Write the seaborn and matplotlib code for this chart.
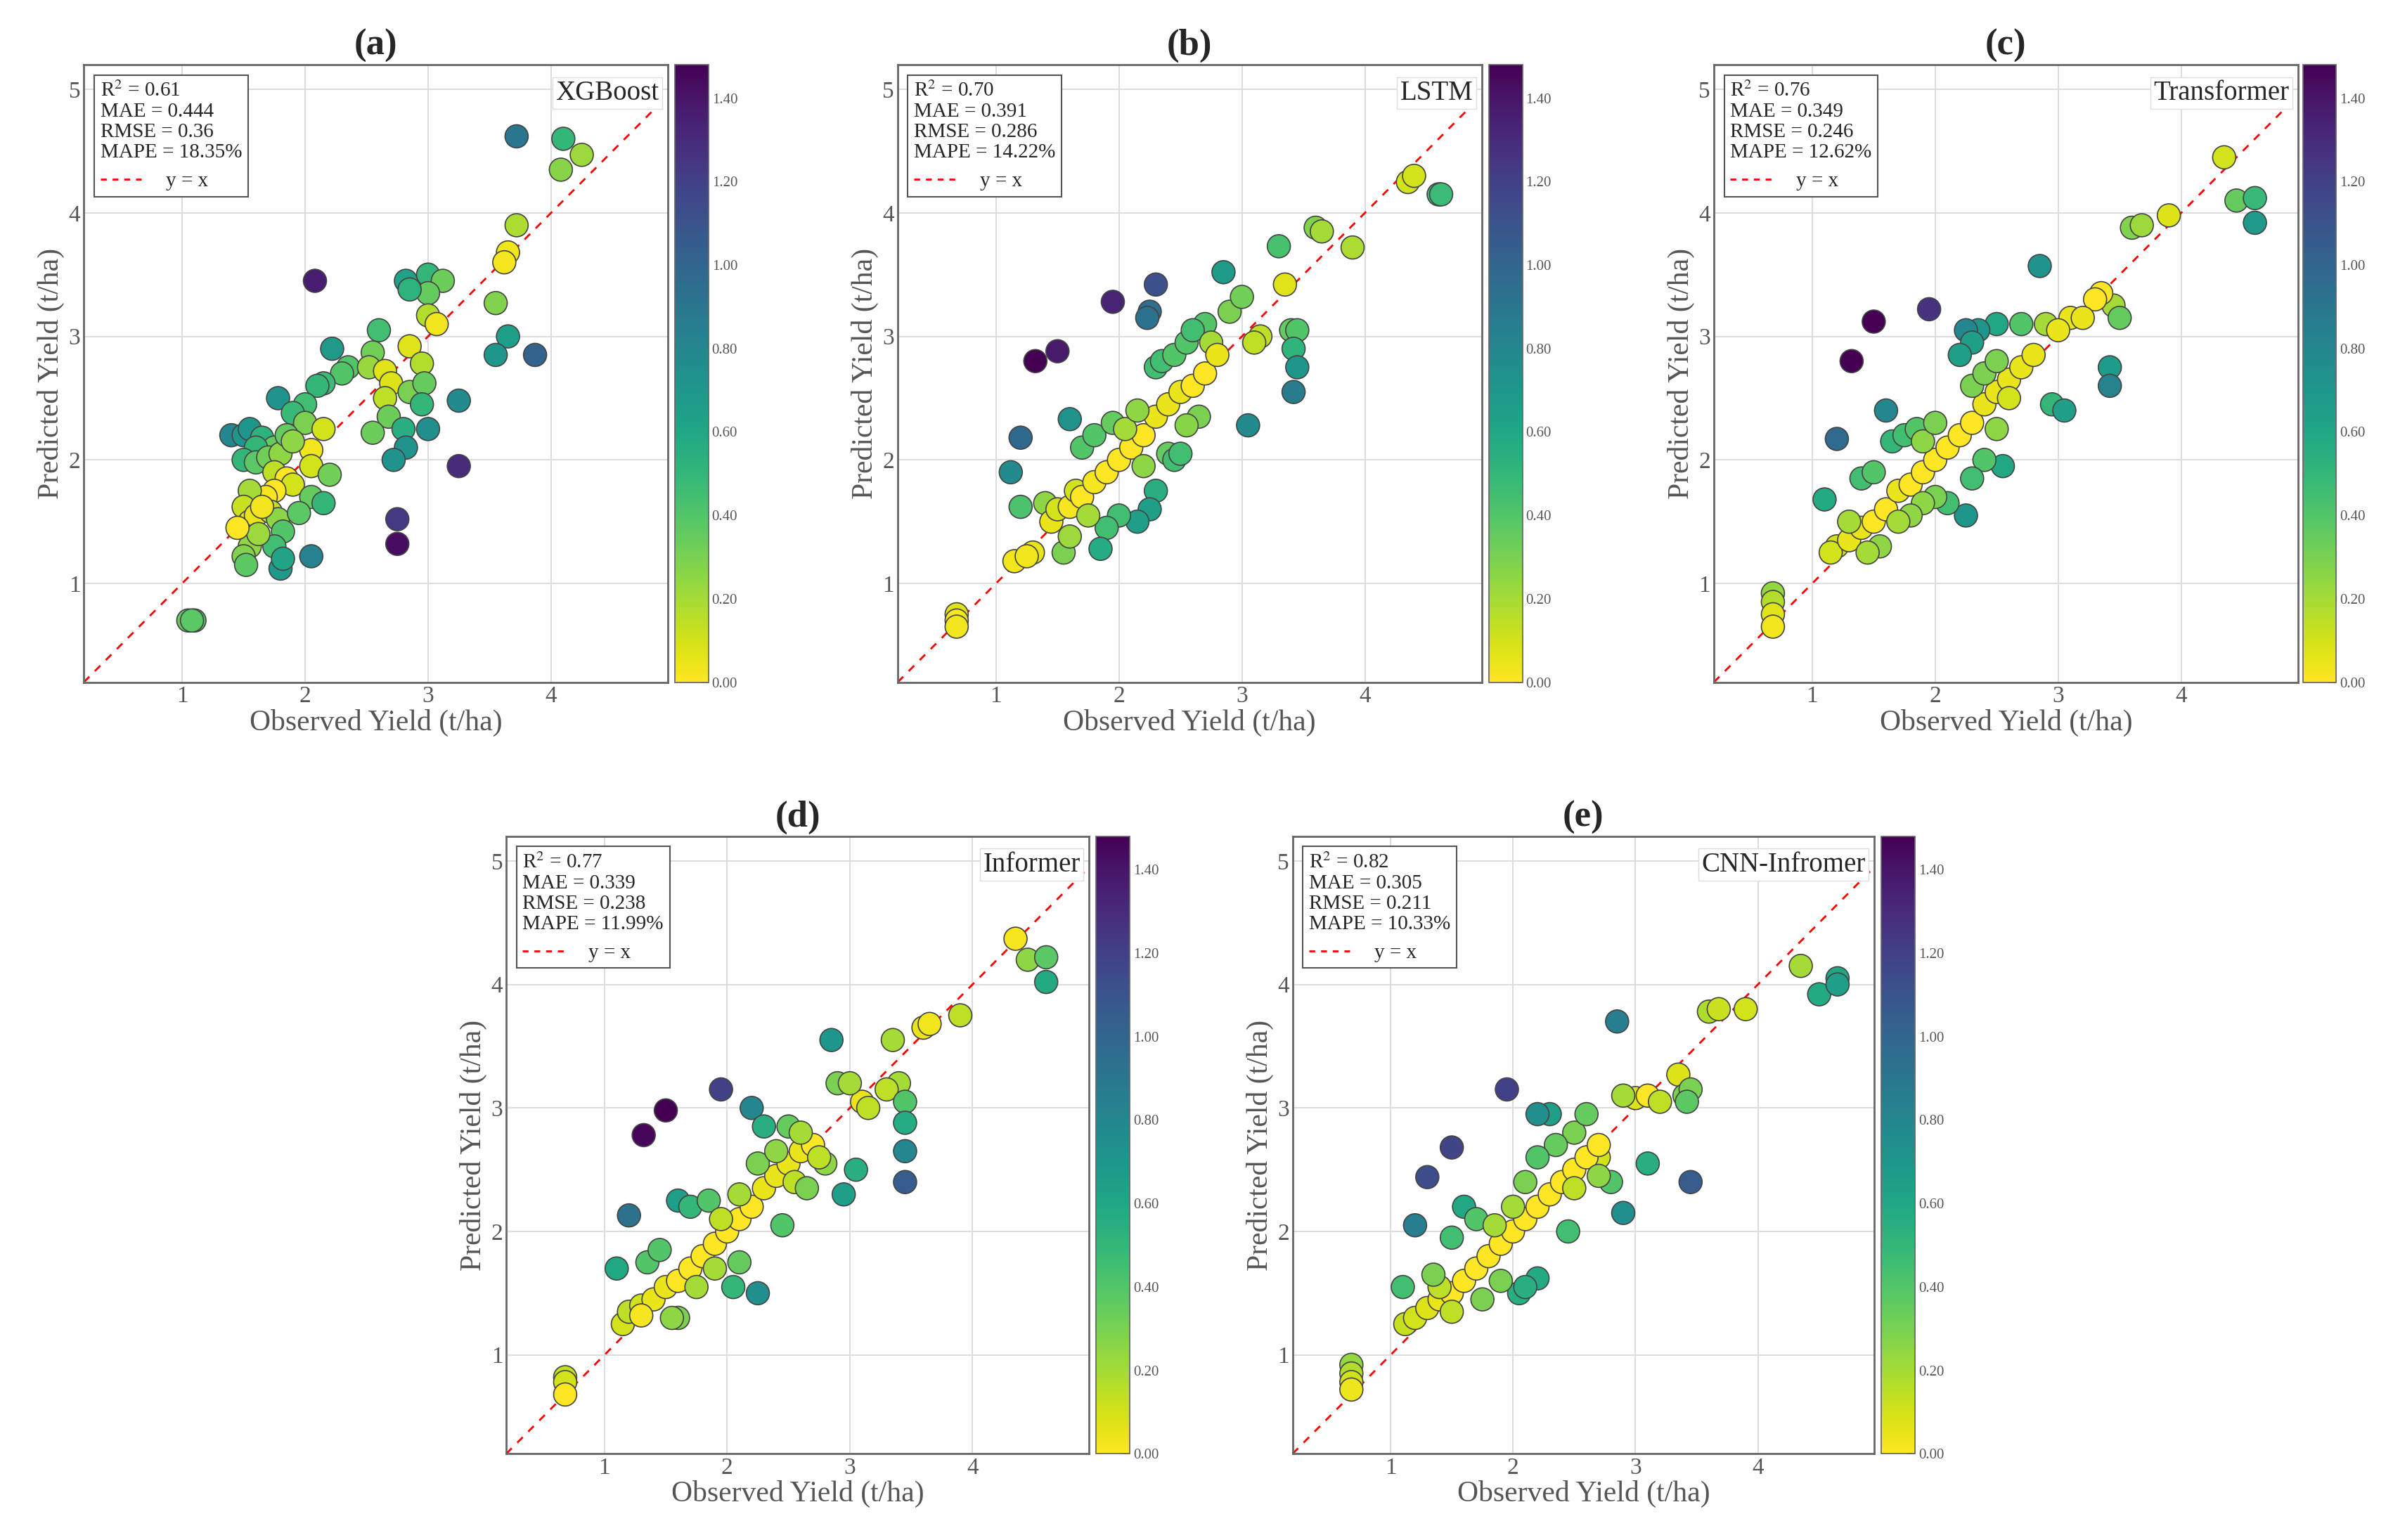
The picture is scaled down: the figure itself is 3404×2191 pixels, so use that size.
import pandas as pd
import numpy as np
import matplotlib.pyplot as plt
import seaborn as sns
from matplotlib.lines import Line2D
from matplotlib.cm import ScalarMappable
from matplotlib.colors import Normalize

# Observed / predicted yield (t/ha)
xgb_pts = [(1.05,0.7),(1.1,0.7),(1.08,0.7),(3.72,4.62),(4.1,4.6),(4.25,4.47),(4.08,4.35),(3.72,3.9),(3.65,3.68),(3.62,3.6),
           (3.55,3.27),(3.65,3.0),(3.55,2.85),(3.87,2.85),(3.25,2.48),(3.25,1.95),(2.75,1.52),(2.75,1.32),(2.08,3.45),
           (2.82,3.45),(3.0,3.5),(3.12,3.45),(3.0,3.35),(2.85,3.38),(3.0,3.17),(3.07,3.1),(2.6,3.05),(2.22,2.9),(2.55,2.87),
           (2.35,2.75),(2.3,2.7),(2.52,2.75),(2.65,2.72),(2.7,2.62),(2.85,2.92),(2.95,2.78),(2.85,2.55),(2.97,2.62),(2.95,2.45),
           (2.65,2.5),(2.68,2.35),(2.55,2.22),(2.8,2.25),(3.0,2.25),(2.82,2.1),(2.72,2.0),(2.15,2.62),(2.1,2.6),(2.0,2.45),
           (1.78,2.5),(1.9,2.38),(2.0,2.3),(2.15,2.25),(2.05,2.08),(2.05,1.95),(2.2,1.88),(1.4,2.2),(1.5,2.2),(1.55,2.25),
           (1.65,2.18),(1.75,2.1),(1.6,2.1),(1.5,2.0),(1.6,1.98),(1.7,2.02),(1.8,2.05),(1.85,2.2),(1.9,2.15),(1.75,1.9),
           (1.85,1.85),(1.9,1.8),(1.75,1.75),(1.68,1.7),(1.55,1.75),(1.5,1.62),(1.55,1.5),(1.6,1.55),(1.72,1.58),(1.78,1.52),
           (1.82,1.42),(1.75,1.3),(1.55,1.3),(1.5,1.22),(1.52,1.15),(1.8,1.12),(1.82,1.2),(1.62,1.4),(2.05,1.7),(2.15,1.65),
           (2.05,1.22),(1.95,1.57),(1.65,1.62),(1.45,1.45)]
lstm_pts = [(0.68,0.75),(0.68,0.7),(0.68,0.65),(4.35,4.25),(4.4,4.3),(4.6,4.15),(4.62,4.15),(3.6,3.88),(3.65,3.85),(3.9,3.72),
            (3.3,3.73),(3.35,3.42),(3.15,3.0),(3.1,2.95),(3.4,3.05),(3.45,3.05),(3.42,2.9),(3.45,2.75),(3.42,2.55),(3.05,2.28),
            (2.85,3.52),(2.7,3.1),(2.9,3.2),(3.0,3.32),(2.3,3.42),(2.25,3.2),(2.23,3.15),(1.95,3.28),(1.5,2.88),(1.32,2.8),
            (1.2,2.18),(1.12,1.9),(1.2,1.62),(1.6,2.33),(1.4,1.65),(1.3,1.25),(1.15,1.18),(1.25,1.22),(1.45,1.5),(1.5,1.6),
            (1.6,1.62),(1.65,1.75),(1.7,1.7),(1.8,1.82),(1.9,1.9),(2.0,2.0),(2.1,2.1),(2.2,2.2),(2.3,2.35),(2.4,2.45),
            (2.5,2.55),(2.6,2.6),(2.7,2.7),(1.7,2.1),(1.8,2.2),(1.95,2.3),(2.05,2.25),(2.15,2.4),(2.3,2.75),(2.35,2.8),
            (2.45,2.85),(2.55,2.95),(2.6,3.05),(2.75,2.95),(2.8,2.85),(2.65,2.35),(2.55,2.28),(2.4,2.05),(2.3,1.75),(2.25,1.6),
            (2.15,1.5),(2.0,1.55),(1.9,1.45),(1.85,1.28),(1.55,1.25),(1.6,1.38),(1.75,1.55),(2.2,1.95),(2.45,2.0),(2.5,2.05)]
trans_pts = [(0.68,0.92),(0.68,0.85),(0.68,0.75),(0.68,0.65),(4.35,4.45),(4.45,4.1),(4.6,4.12),(4.6,3.92),(3.9,3.98),(3.6,3.88),
             (3.68,3.9),(3.45,3.25),(3.5,3.15),(3.42,2.75),(3.42,2.6),(3.35,3.35),(3.3,3.3),(3.1,3.15),(3.2,3.15),(2.85,3.57),
             (2.9,3.1),(2.95,2.45),(3.05,2.4),(2.7,3.1),(2.5,3.1),(2.35,3.05),(2.25,3.05),(2.3,2.95),(1.95,3.22),(1.5,3.12),
             (1.32,2.8),(1.2,2.17),(1.1,1.68),(1.2,1.3),(1.15,1.25),(1.3,1.35),(1.4,1.45),(1.5,1.5),(1.6,1.6),(1.7,1.75),
             (1.8,1.8),(1.9,1.9),(2.0,2.0),(2.1,2.1),(2.2,2.2),(2.3,2.3),(2.4,2.45),(2.5,2.55),(2.6,2.65),(2.7,2.75),
             (2.8,2.85),(3.0,3.05),(1.6,2.4),(1.65,2.15),(1.75,2.2),(1.85,2.25),(1.9,2.15),(2.0,2.3),(2.2,2.85),(2.3,2.6),
             (2.4,2.7),(2.5,2.8),(2.6,2.5),(2.55,1.95),(2.4,2.0),(2.3,1.85),(2.25,1.55),(2.1,1.65),(2.0,1.7),(1.9,1.65),
             (1.8,1.55),(1.7,1.5),(1.55,1.3),(1.45,1.25),(1.3,1.5),(1.4,1.85),(1.5,1.9),(2.5,2.25)]
inf_pts = [(0.68,0.82),(0.68,0.78),(0.68,0.68),(4.35,4.37),(4.45,4.2),(4.6,4.22),(4.6,4.02),(3.9,3.75),(3.6,3.65),(3.65,3.68),
           (3.35,3.55),(3.4,3.2),(3.3,3.15),(3.45,3.05),(3.45,2.88),(3.45,2.65),(3.45,2.4),(3.1,3.05),(3.15,3.0),(2.85,3.55),
           (2.9,3.2),(3.0,3.2),(2.95,2.3),(3.05,2.5),(2.8,2.55),(1.95,3.15),(1.5,2.98),(1.32,2.78),(1.2,2.13),(1.1,1.7),
           (1.15,1.25),(1.2,1.35),(1.3,1.4),(1.4,1.45),(1.5,1.55),(1.6,1.6),(1.7,1.7),(1.8,1.8),(1.9,1.9),(2.0,2.0),
           (2.1,2.1),(2.2,2.2),(2.3,2.35),(2.4,2.45),(2.5,2.55),(2.6,2.65),(2.7,2.7),(2.2,3.0),(2.3,2.85),(2.5,2.85),
           (2.6,2.8),(1.6,2.25),(1.7,2.2),(1.85,2.25),(1.95,2.1),(2.1,2.3),(2.25,2.55),(2.4,2.65),(2.55,2.4),(2.65,2.35),
           (2.45,2.05),(2.25,1.5),(2.05,1.55),(2.1,1.75),(1.9,1.7),(1.75,1.55),(1.6,1.3),(1.55,1.3),(1.35,1.75),(1.45,1.85),
           (2.75,2.6),(1.3,1.32)]
cnn_pts = [(0.68,0.92),(0.68,0.85),(0.68,0.78),(0.68,0.72),(4.35,4.15),(4.5,3.92),(4.65,4.05),(4.65,4.0),(3.9,3.8),(3.6,3.78),
           (3.68,3.8),(3.35,3.27),(3.4,3.1),(3.45,3.15),(3.42,3.05),(3.45,2.4),(3.1,2.55),(3.0,3.08),(3.1,3.1),(2.85,3.7),
           (2.9,3.1),(2.9,2.15),(2.7,2.6),(2.8,2.4),(2.3,2.95),(2.2,2.95),(1.95,3.15),(1.5,2.68),(1.3,2.44),(1.2,2.05),
           (1.1,1.55),(1.12,1.25),(1.2,1.3),(1.3,1.38),(1.4,1.45),(1.5,1.5),(1.6,1.6),(1.7,1.7),(1.8,1.8),(1.9,1.9),
           (2.0,2.0),(2.1,2.1),(2.2,2.2),(2.3,2.3),(2.4,2.4),(2.5,2.5),(2.6,2.6),(2.7,2.7),(2.5,2.8),(2.6,2.95),
           (2.35,2.7),(1.6,2.2),(1.7,2.1),(1.85,2.05),(2.0,2.2),(2.1,2.4),(2.2,2.6),(2.5,2.35),(2.7,2.45),(2.2,1.62),
           (2.05,1.5),(2.1,1.55),(1.9,1.6),(1.75,1.45),(1.5,1.35),(1.4,1.55),(1.5,1.95),(1.35,1.65),(2.45,2.0),(3.2,3.05)]

panel_labels = ['(a)', '(b)', '(c)', '(d)', '(e)']
model_names = ['XGBoost', 'LSTM', 'Transformer', 'Informer', 'CNN-Infromer']
r2_vals = ['0.61', '0.70', '0.76', '0.77', '0.82']
mae_vals = ['0.444', '0.391', '0.349', '0.339', '0.305']
rmse_vals = ['0.36', '0.286', '0.246', '0.238', '0.211']
mape_vals = ['18.35%', '14.22%', '12.62%', '11.99%', '10.33%']
all_pts = [xgb_pts, lstm_pts, trans_pts, inf_pts, cnn_pts]

# Axes positions [left, bottom, width, height] and colorbar positions
ax_pos = [[0.035, 0.557, 0.244, 0.401], [0.375, 0.557, 0.244, 0.401], [0.716, 0.557, 0.244, 0.401],
          [0.2115, 0.056, 0.2435, 0.401], [0.540, 0.056, 0.243, 0.401]]
cb_pos = [[0.282, 0.557, 0.014, 0.401], [0.622, 0.557, 0.014, 0.401], [0.962, 0.557, 0.014, 0.401],
          [0.458, 0.056, 0.014, 0.401], [0.786, 0.056, 0.014, 0.401]]

sns.set_theme(style="whitegrid")
plt.rcParams['font.family'] = ['Liberation Serif', 'DejaVu Serif']
plt.rcParams['mathtext.fontset'] = 'stix'

fig = plt.figure(figsize=(34.05, 21.91), dpi=100)
norm = Normalize(vmin=0, vmax=1.48)

for i in range(5):
    df = pd.DataFrame(all_pts[i], columns=['observed', 'predicted'])
    df['abs_err'] = (df['predicted'] - df['observed']).abs()  # colour = absolute error

    ax = fig.add_axes(ax_pos[i])
    ax.plot([0.2, 5.2], [0.2, 5.2], color='red', linestyle=(0, (4, 4)), linewidth=2, zorder=1)
    sns.scatterplot(data=df, x='observed', y='predicted', hue='abs_err', palette='viridis_r',
                    hue_norm=norm, s=560, edgecolor='#444444', linewidth=1.2, legend=False, ax=ax, zorder=3)
    ax.set_xlim(0.2, 4.95)
    ax.set_ylim(0.2, 5.2)
    ax.set_xticks([1, 2, 3, 4])
    ax.set_yticks([1, 2, 3, 4, 5])
    ax.set_xticks(np.arange(0.5, 5.0, 0.5), minor=True)
    ax.set_yticks(np.arange(0.5, 5.2, 0.5), minor=True)
    ax.grid(True, which='major', color='#dddddd', linewidth=1.5)
    ax.tick_params(axis='both', which='both', direction='in', labelsize=24, colors='#555555', length=6, width=1.5)
    for spine in ax.spines.values():
        spine.set_color('#666666')
        spine.set_linewidth(2)
    ax.set_xlabel('Observed Yield (t/ha)', fontsize=30, color='#555555', labelpad=2)
    ax.set_ylabel('Predicted Yield (t/ha)', fontsize=30, color='#555555', labelpad=4)
    ax.set_title(panel_labels[i], fontsize=38, fontweight='bold', pad=10)

    # Metrics box: stats as legend title, y = x as the one entry
    stats = '\n'.join([r'R$^2$ = ' + r2_vals[i], 'MAE = ' + mae_vals[i],
                       'RMSE = ' + rmse_vals[i], 'MAPE = ' + mape_vals[i]])
    handle = Line2D([], [], color='red', linestyle=(0, (3, 3)), linewidth=2)
    leg = ax.legend([handle], ['y = x'], title=stats, loc='upper left', fontsize=21, title_fontsize=21,
                    handlelength=2.0, handletextpad=1.2, borderpad=0.3, fancybox=False,
                    framealpha=1, edgecolor='#555555', alignment='left')
    leg.get_title().set_linespacing(1.15)
    leg.get_frame().set_linewidth(1.5)

    ax.text(0.985, 0.975, model_names[i], transform=ax.transAxes, ha='right', va='top', fontsize=28,
            bbox=dict(facecolor='white', edgecolor='#dddddd', pad=3), zorder=5)

    cax = fig.add_axes(cb_pos[i])
    cb = fig.colorbar(ScalarMappable(norm=norm, cmap='viridis_r'), cax=cax, format='%.2f')
    cb.set_ticks(np.arange(0, 1.41, 0.2))
    cb.ax.tick_params(labelsize=15, colors='#555555', direction='in', length=8)
    cb.outline.set_edgecolor('#666666')

plt.savefig('out.png', dpi=100)
plt.close()
